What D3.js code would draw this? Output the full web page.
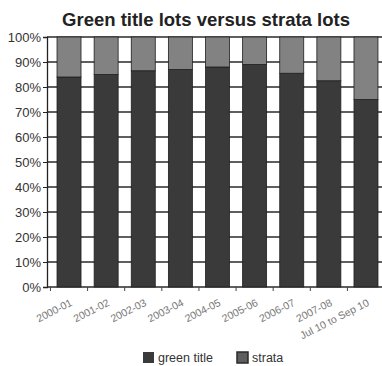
<!DOCTYPE html>
<html><head><meta charset="utf-8">
<script src="https://cdn.jsdelivr.net/npm/d3@7"></script>
<style>body{margin:0;background:#fff}svg{display:block}</style>
</head><body>
<script>
const categories = ["2000-01","2001-02","2002-03","2003-04","2004-05","2005-06","2006-07","2007-08","Jul 10 to Sep 10"];
const greenTitle = [84, 85, 86.5, 87, 88, 89, 85.5, 82.5, 75];
const strata = greenTitle.map(v => 100 - v);
const seriesNames = ["green title","strata"];
const seriesColors = ["#3a3a3a","#828282"];
const yTicks = [0,10,20,30,40,50,60,70,80,90,100];

const W = 382, H = 366;
const FONT = "Liberation Sans, Arial, sans-serif";
const svg = d3.select("body").append("svg").attr("width", W).attr("height", H);

const x = d3.scaleBand().domain(categories).range([47, 388]).paddingInner(0.3535).paddingOuter(0.27);
const y = d3.scaleLinear().domain([0,100]).range([287, 37]);

svg.append("text").attr("x", 206).attr("y", 26).attr("text-anchor","middle")
  .attr("font-family", FONT).attr("font-weight","bold")
  .attr("font-size", 18.5).attr("fill","#222").text("Green title lots versus strata lots");

// gridlines
svg.append("g").selectAll("line").data(yTicks).join("line")
  .attr("x1", 47).attr("x2", W).attr("y1", d => y(d)).attr("y2", d => y(d))
  .attr("stroke", "#2a2a2a").attr("stroke-width", 1.3);

// y axis
const yAxis = d3.axisLeft(y).tickValues(yTicks).tickFormat(d => d + "%").tickSize(4).tickPadding(2);
const gy = svg.append("g").attr("transform","translate(47,0)").call(yAxis);
gy.select(".domain").attr("stroke","#222").attr("stroke-width",1.3);
gy.selectAll(".tick line").attr("stroke","#222");
gy.selectAll("text").attr("font-family", FONT).attr("font-size",13).attr("fill","#333");

// stacked bars
const rows = categories.map((c,i) => ({cat:c, "green title":greenTitle[i], "strata":strata[i]}));
const stack = d3.stack().keys(seriesNames)(rows);
svg.append("g").selectAll("g").data(stack).join("g")
  .attr("fill", (d,i) => seriesColors[i])
  .selectAll("rect").data(d => d).join("rect")
  .attr("x", d => x(d.data.cat)).attr("width", x.bandwidth())
  .attr("y", d => y(d[1])).attr("height", d => y(d[0]) - y(d[1]))
  .attr("stroke", "#1e1e1e").attr("stroke-width", 0.8);

// x axis ticks between categories
const gap = x.step() - x.bandwidth();
svg.append("g").selectAll("line").data(categories).join("line")
  .attr("x1", d => x(d) - gap/2).attr("x2", d => x(d) - gap/2).attr("y1", 287).attr("y2", 291)
  .attr("stroke","#444");

svg.append("g").selectAll("text").data(categories).join("text")
  .attr("transform", d => `translate(${x(d) + x.bandwidth()/2 + 4},${305}) rotate(-27)`)
  .attr("text-anchor","end")
  .attr("font-family", FONT).attr("font-size",10.5).attr("fill","#777")
  .text(d => d);

// legend
const lg = svg.append("g").attr("transform","translate(143,352)");
const items = [{n:seriesNames[0], c:seriesColors[0], x:0},{n:seriesNames[1], c:"#5e5e5e", x:94}];
items.forEach(it => {
  lg.append("rect").attr("x", it.x).attr("y", 0).attr("width", 11).attr("height", 11)
    .attr("fill", it.c).attr("stroke","#2a2a2a").attr("stroke-width", it.n === "strata" ? 1.5 : 0);
  lg.append("text").attr("x", it.x + 15).attr("y", 10).attr("font-family", FONT)
    .attr("font-size",12.5).attr("fill","#333").text(it.n);
});
</script>
</body></html>
